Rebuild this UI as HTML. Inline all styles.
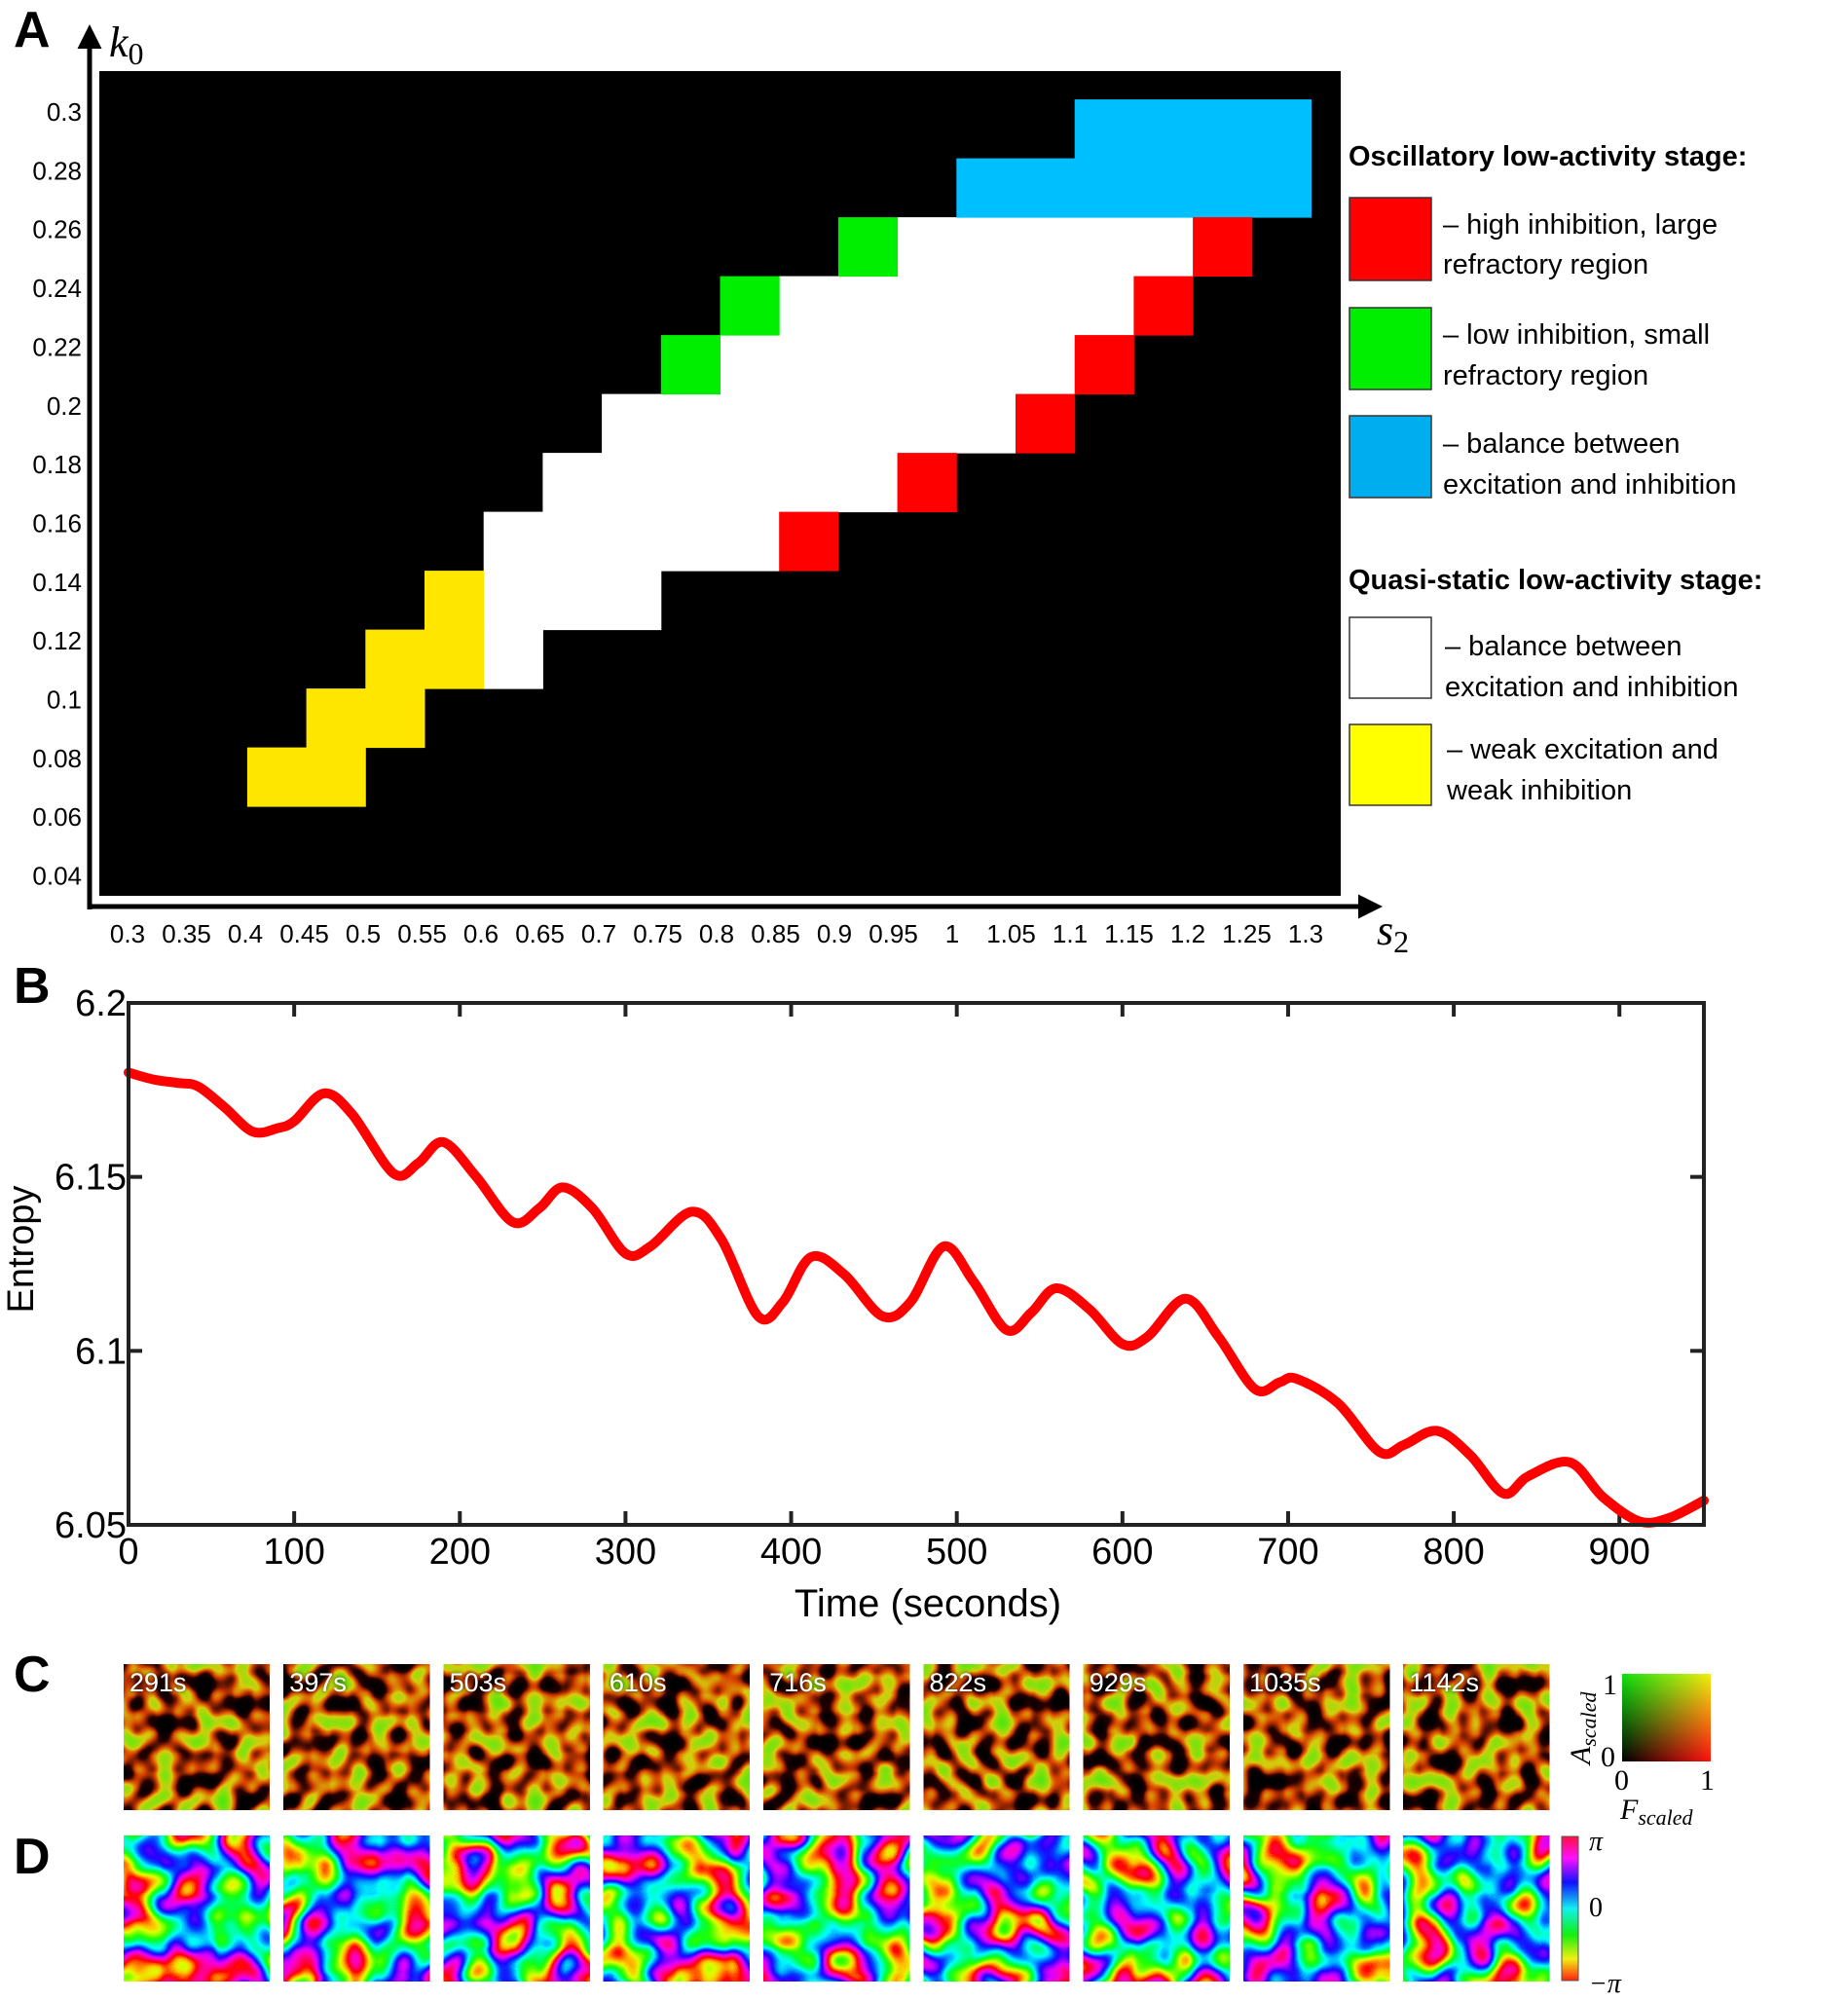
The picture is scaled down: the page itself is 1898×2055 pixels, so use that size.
<!DOCTYPE html>
<html><head><meta charset="utf-8">
<style>
html,body{margin:0;padding:0;background:#fff;}
svg{display:block;}
text{font-family:"Liberation Sans",sans-serif;}
.serif{font-family:"Liberation Serif","DejaVu Serif",serif;}
</style></head>
<body>
<svg id="fig" width="1898" height="2055" viewBox="0 0 1898 2055" xmlns="http://www.w3.org/2000/svg">
<defs>
  <marker id="arrowA" viewBox="0 0 10 10" refX="2" refY="5" markerWidth="5" markerHeight="5" orient="auto-start-reverse"><path d="M0,0 L10,5 L0,10 z" fill="#000"/></marker>
  <linearGradient id="cbTop" x1="0" x2="1" y1="0" y2="0"><stop offset="0" stop-color="#10e010"/><stop offset="1" stop-color="#f0f010"/></linearGradient>
  <linearGradient id="cbBot" x1="0" x2="1" y1="0" y2="0"><stop offset="0" stop-color="#000"/><stop offset="1" stop-color="#ff1010"/></linearGradient>
  <linearGradient id="cbFade" x1="0" x2="0" y1="0" y2="1"><stop offset="0" stop-color="#fff"/><stop offset="1" stop-color="#000"/></linearGradient>
  <mask id="cbMask"><rect x="1666" y="1719" width="91" height="90" fill="url(#cbFade)"/></mask>
  <linearGradient id="phaseGrad" x1="0" x2="0" y1="0" y2="1">
    <stop offset="0" stop-color="#ff1040"/><stop offset="0.15" stop-color="#ff10ff"/><stop offset="0.32" stop-color="#1010ff"/>
    <stop offset="0.5" stop-color="#10f0f0"/><stop offset="0.68" stop-color="#10f010"/><stop offset="0.85" stop-color="#f0f010"/><stop offset="1" stop-color="#ff2010"/>
  </linearGradient>
  <filter id="txtShadow" x="-20%" y="-20%" width="140%" height="140%"><feDropShadow dx="0" dy="0" stdDeviation="2" flood-color="#000" flood-opacity="0.9"/></filter>
</defs>

<!-- PANEL A -->
<g id="panelA">
  <text x="14" y="48" font-size="52" font-weight="bold">A</text>
  <rect x="102" y="73" width="1275" height="847" fill="#000"/>
  <g id="cells"></g>
  <line x1="92" y1="934" x2="92" y2="45" stroke="#000" stroke-width="5" marker-end="url(#arrowA)"/>
  <line x1="90" y1="931" x2="1400" y2="931" stroke="#000" stroke-width="5" marker-end="url(#arrowA)"/>
  <text class="serif" x="112" y="58" font-size="44" font-style="italic">k<tspan font-size="32" dy="8" font-style="normal">0</tspan></text>
  <text class="serif" x="1414" y="970" font-size="44" font-style="italic">s<tspan font-size="32" dy="8" font-style="normal">2</tspan></text>
  <g id="aYTicks"></g>
  <g id="aXTicks"></g>
  <g>
    <text x="1385" y="170" font-size="29" font-weight="bold">Oscillatory low-activity stage:</text>
    <rect x="1386" y="203" width="84" height="85" fill="#ff0000" stroke="#333" stroke-width="1.5"/>
    <text x="1482" y="240" font-size="29">– high inhibition, large<tspan x="1482" y="281">refractory region</tspan></text>
    <rect x="1386" y="316" width="84" height="84" fill="#00ee00" stroke="#333" stroke-width="1.5"/>
    <text x="1482" y="353" font-size="29">– low inhibition, small<tspan x="1482" y="395">refractory region</tspan></text>
    <rect x="1386" y="427" width="84" height="84" fill="#00aeef" stroke="#333" stroke-width="1.5"/>
    <text x="1482" y="465" font-size="29">– balance between<tspan x="1482" y="507">excitation and inhibition</tspan></text>
    <text x="1385" y="605" font-size="29" font-weight="bold">Quasi-static low-activity stage:</text>
    <rect x="1386" y="634" width="84" height="83" fill="#fff" stroke="#333" stroke-width="1.5"/>
    <text x="1484" y="673" font-size="29">– balance between<tspan x="1484" y="715">excitation and inhibition</tspan></text>
    <rect x="1386" y="744" width="84" height="83" fill="#ffff00" stroke="#333" stroke-width="1.5"/>
    <text x="1486" y="779" font-size="29">– weak excitation and<tspan x="1486" y="821">weak inhibition</tspan></text>
  </g>
</g>

<!-- PANEL B -->
<g id="panelB">
  <text x="14" y="1030" font-size="52" font-weight="bold">B</text>
  <g id="bTicks"></g>
  <path id="entropyLine" fill="none" stroke="#ff0000" stroke-width="10" stroke-linejoin="round" stroke-linecap="round"/>
  <rect x="132" y="1030" width="1618" height="536" fill="none" stroke="#222" stroke-width="4"/>
  <text x="953" y="1660" font-size="40" text-anchor="middle">Time (seconds)</text>
  <text transform="translate(34,1283) rotate(-90)" font-size="38" text-anchor="middle">Entropy</text>
</g>

<!-- PANELS C & D -->
<g id="panelCD">
  <text x="14" y="1737" font-size="52" font-weight="bold">C</text>
  <text x="14" y="1924" font-size="52" font-weight="bold">D</text>
  <g id="snaps"></g>
  <g>
    <rect x="1666" y="1719" width="91" height="90" fill="url(#cbBot)"/>
    <rect x="1666" y="1719" width="91" height="90" fill="url(#cbTop)" mask="url(#cbMask)"/>
    <text class="serif" x="1646" y="1740" font-size="30">1</text>
    <text class="serif" x="1644" y="1814" font-size="30">0</text>
    <text class="serif" x="1658" y="1838" font-size="30">0</text>
    <text class="serif" x="1746" y="1838" font-size="30">1</text>
    <text class="serif" x="1664" y="1868" font-size="30" font-style="italic">F<tspan font-size="22" dy="6">scaled</tspan></text>
    <text class="serif" transform="translate(1633,1812) rotate(-90)" font-size="30" font-style="italic">A<tspan font-size="22" dy="6">scaled</tspan></text>
  </g>
  <g>
    <rect x="1604" y="1886" width="17" height="148" fill="url(#phaseGrad)" stroke="#555" stroke-width="1"/>
    <text class="serif" x="1632" y="1900" font-size="28" font-style="italic">π</text>
    <text class="serif" x="1632" y="1968" font-size="28">0</text>
    <text class="serif" x="1632" y="2046" font-size="28" font-style="italic">−π</text>
  </g>
</g>
</svg>

<script>
// ---------- Panel A data ----------
const s2Labels = ["0.3","0.35","0.4","0.45","0.5","0.55","0.6","0.65","0.7","0.75","0.8","0.85","0.9","0.95","1","1.05","1.1","1.15","1.2","1.25","1.3"];
const k0Labels = ["0.3","0.28","0.26","0.24","0.22","0.2","0.18","0.16","0.14","0.12","0.1","0.08","0.06","0.04"];
// each region: [k0 row value, s2 start, s2 end (inclusive)]
const blueCells   = [[0.30,1.1,1.25],[0.28,1.0,1.25]];
const greenCells  = [[0.26,0.9,0.9],[0.24,0.8,0.8],[0.22,0.75,0.75]];
const redCells    = [[0.26,1.2,1.2],[0.24,1.15,1.15],[0.22,1.1,1.1],[0.20,1.05,1.05],[0.18,0.95,0.95],[0.16,0.85,0.85]];
const whiteCells  = [[0.26,0.95,1.15],[0.24,0.85,1.1],[0.22,0.8,1.05],[0.20,0.7,1.0],[0.18,0.65,0.9],[0.16,0.6,0.8],[0.14,0.6,0.7],[0.12,0.6,0.6]];
const yellowCells = [[0.14,0.55,0.55],[0.12,0.5,0.55],[0.10,0.45,0.5],[0.08,0.4,0.45]];

// ---------- Panel B data ----------
const timeVals    = [0,15,30,42,58,75,90,100,118,135,160,175,190,210,232,248,262,280,300,315,340,358,380,395,412,432,455,472,492,510,530,545,560,580,600,615,638,658,680,695,705,730,755,770,790,810,830,845,870,890,912,930,951];
const entropyVals = [6.180,6.178,6.177,6.176,6.170,6.163,6.164,6.166,6.174,6.168,6.151,6.154,6.160,6.150,6.137,6.141,6.147,6.141,6.128,6.130,6.140,6.132,6.110,6.114,6.127,6.122,6.110,6.114,6.130,6.120,6.106,6.111,6.118,6.112,6.102,6.104,6.115,6.104,6.089,6.091,6.092,6.085,6.071,6.073,6.077,6.070,6.059,6.064,6.068,6.058,6.051,6.052,6.057];
const xTickVals = [0,100,200,300,400,500,600,700,800,900];
const yTickVals = [6.05,6.1,6.15,6.2];
const yTickLabels = ["6.05","6.1","6.15","6.2"];

// ---------- Panels C/D ----------
const snapTimes = ["291s","397s","503s","610s","716s","822s","929s","1035s","1142s"];

const NS = "http://www.w3.org/2000/svg";
function mk(tag, attrs, parent){ const e=document.createElementNS(NS,tag); for(const k in attrs) e.setAttribute(k,attrs[k]); parent.appendChild(e); return e; }

// Panel A scales
const aX0 = 132.5, aCW = 60.7, aY0 = 102.1, aCH = 60.5;
function colOf(s){ return Math.round((s-0.3)/0.05); }
function rowOf(k){ return Math.round((0.3-k)/0.02); }
function cellX(s){ return aX0 + colOf(s)*aCW; }
function cellY(k){ return aY0 + rowOf(k)*aCH; }
const cellsG = document.getElementById('cells');
function drawRegion(list, color, name){
  list.forEach(r=>{
    const x1 = cellX(r[1]), x2 = cellX(r[2])+aCW;
    const e = mk('rect',{x:x1,y:cellY(r[0]),width:x2-x1+0.5,height:aCH+0.5,fill:color},cellsG);
    
    
  });
}
drawRegion(whiteCells,'#ffffff','cell-quasi-static-balance');
drawRegion(yellowCells,'#ffe600','cell-weak-excitation');
drawRegion(blueCells,'#00bfff','cell-oscillatory-balance');
drawRegion(greenCells,'#00ee00','cell-low-inhibition');
drawRegion(redCells,'#ff0000','cell-high-inhibition');

const aYT = document.getElementById('aYTicks');
k0Labels.forEach((l,i)=>{
  const t = mk('text',{x:84,y:115+i*60.35+9,'font-size':26,'text-anchor':'end'},aYT);
  t.textContent = l;
  
  
});
const aXT = document.getElementById('aXTicks');
s2Labels.forEach((l,i)=>{
  const t = mk('text',{x:131+i*60.5,y:968,'font-size':26,'text-anchor':'middle'},aXT);
  t.textContent = l;
  
  
});

// Panel B scales
const bL=132, bR=1750, bT=1030, bB=1566, tMax=951;
function bx(t){ return bL + t/tMax*(bR-bL); }
function by(v){ return bB - (v-6.05)/0.15*(bB-bT); }
const bTk = document.getElementById('bTicks');
xTickVals.forEach(v=>{
  const x=bx(v);
  let e=mk('line',{x1:x,y1:bB,x2:x,y2:bB-14,stroke:'#222','stroke-width':4},bTk);
  
  
  e=mk('line',{x1:x,y1:bT,x2:x,y2:bT+14,stroke:'#222','stroke-width':4},bTk);
  
  
  const t=mk('text',{x:x,y:1606,'font-size':38,'text-anchor':'middle'},bTk);
  t.textContent=String(v);
  
  
});
yTickVals.forEach((v,i)=>{
  const y=by(v);
  let e=mk('line',{x1:bL,y1:y,x2:bL+14,y2:y,stroke:'#222','stroke-width':4},bTk);
  
  
  e=mk('line',{x1:bR,y1:y,x2:bR-14,y2:y,stroke:'#222','stroke-width':4},bTk);
  
  
  const t=mk('text',{x:130,y:y+13,'font-size':38,'text-anchor':'end'},bTk);
  t.textContent=yTickLabels[i];
  
  
});
(function(){
  const P = timeVals.map((t,i)=>[bx(t),by(entropyVals[i])]);
  let d = 'M'+P[0][0]+','+P[0][1];
  for(let i=0;i<P.length-1;i++){
    const p0=P[Math.max(0,i-1)], p1=P[i], p2=P[i+1], p3=P[Math.min(P.length-1,i+2)];
    const c1=[p1[0]+(p2[0]-p0[0])/6, p1[1]+(p2[1]-p0[1])/6];
    const c2=[p2[0]-(p3[0]-p1[0])/6, p2[1]-(p3[1]-p1[1])/6];
    d+=' C'+c1[0].toFixed(1)+','+c1[1].toFixed(1)+' '+c2[0].toFixed(1)+','+c2[1].toFixed(1)+' '+p2[0].toFixed(1)+','+p2[1].toFixed(1);
  }
  document.getElementById('entropyLine').setAttribute('d',d);
})();

// Phase colour tables (rainbow over the central noise range)
function hsv(h){ h=((h%1)+1)%1; const i=Math.floor(h*6), f=h*6-i, q=1-f;
  return [[1,f,0],[q,1,0],[0,1,f],[0,q,1],[f,0,1],[1,0,q]][i]; }
const NT=41, tR=[], tG=[], tB=[];
for(let k=0;k<NT;k++){
  const v=k/(NT-1);
  const c=hsv((v-0.3)/0.4*1.0);
  tR.push(c[0].toFixed(2)); tG.push(c[1].toFixed(2)); tB.push(c[2].toFixed(2));
}

// Panels C/D snapshots (procedural texture)
const defs = document.querySelector('defs');
const snaps = document.getElementById('snaps');
snapTimes.forEach((lab,i)=>{
  const x = 127 + i*164.3, w=150;
  const fc = mk('filter',{id:'fc'+i,x:0,y:0,width:1,height:1,'color-interpolation-filters':'sRGB'},defs);
  mk('feTurbulence',{type:'fractalNoise',baseFrequency:'0.05',numOctaves:'1',seed:String(3+i*7)},fc);
  mk('feColorMatrix',{type:'matrix',values:'1 0 0 0 0  1 0 0 0 0  1 0 0 0 0  0 0 0 0 1'},fc);
  const ct = mk('feComponentTransfer',{},fc);
  mk('feFuncR',{type:'table',tableValues:'0 0 0 0 0.15 0.85 0.85 0.55 0.35 0.3 0.3'},ct);
  mk('feFuncG',{type:'table',tableValues:'0 0 0 0 0 0.25 0.8 0.88 0.9 0.9 0.9'},ct);
  mk('feFuncB',{type:'table',tableValues:'0 0 0 0 0 0 0.05 0.05 0.05 0.05 0.05'},ct);
  const rc = mk('rect',{x:x,y:1709,width:w,height:150,fill:'#000',filter:'url(#fc'+i+')'},snaps);
  
  
  const t = mk('text',{x:x+6,y:1737,'font-size':27,fill:'#fff',filter:'url(#txtShadow)'},snaps);
  t.textContent = lab;
  
  
  const fd = mk('filter',{id:'fd'+i,x:0,y:0,width:1,height:1,'color-interpolation-filters':'sRGB'},defs);
  mk('feTurbulence',{type:'fractalNoise',baseFrequency:'0.018',numOctaves:'2',seed:String(11+i*5)},fd);
  mk('feColorMatrix',{type:'matrix',values:'1 0 0 0 0  1 0 0 0 0  1 0 0 0 0  0 0 0 0 1'},fd);
  const dt = mk('feComponentTransfer',{},fd);
  mk('feFuncR',{type:'table',tableValues:tR.join(' ')},dt);
  mk('feFuncG',{type:'table',tableValues:tG.join(' ')},dt);
  mk('feFuncB',{type:'table',tableValues:tB.join(' ')},dt);
  const rd = mk('rect',{x:x,y:1885,width:w,height:150,fill:'#000',filter:'url(#fd'+i+')'},snaps);
  
  
});
</script>
</body></html>
